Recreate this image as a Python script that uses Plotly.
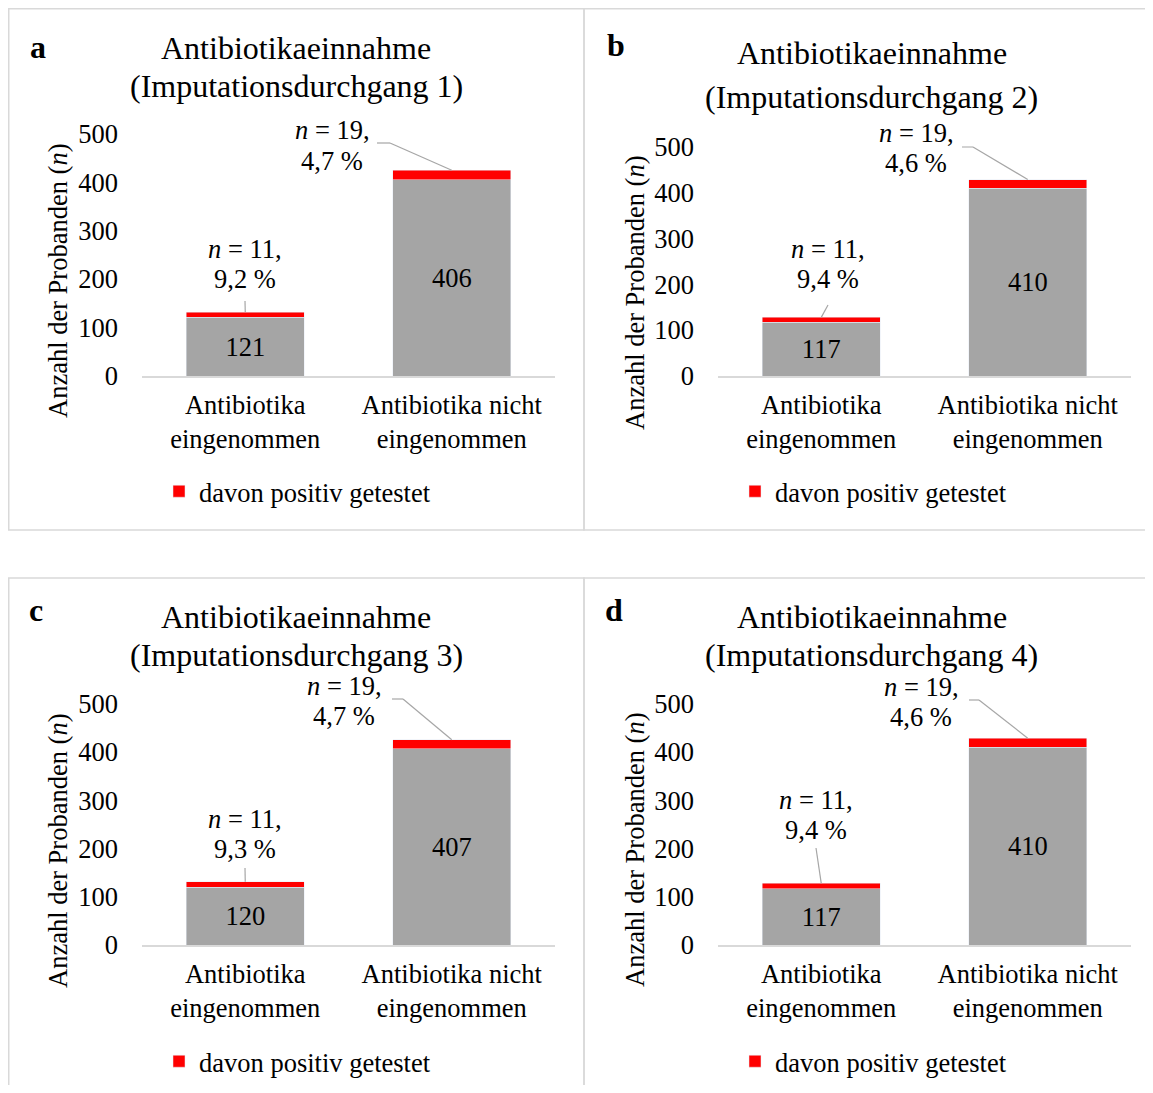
import plotly.graph_objects as go

PAGE_W, PAGE_H = 1153, 1093
OFF = 8  # browser body margin on every side
W, H = PAGE_W - 2 * OFF, PAGE_H - 2 * OFF
FONT = "Liberation Serif, Times New Roman, Tinos, DejaVu Serif, serif"
FS = 26.5      # body text size
FS_TITLE = 32  # title size

# ---------------- data ----------------
categories = ["Antibiotika<br>eingenommen", "Antibiotika nicht<br>eingenommen"]
panel_letters = ["a", "b", "c", "d"]
durchgang = [1, 2, 3, 4]
y_ticks = [0, 100, 200, 300, 400, 500]
legend_label = "davon positiv getestet"

neg_a = [121, 406]
pos_a = [11, 19]
pct_a = ["9,2", "4,7"]

neg_b = [117, 410]
pos_b = [11, 19]
pct_b = ["9,4", "4,6"]

neg_c = [120, 407]
pos_c = [11, 19]
pct_c = ["9,3", "4,7"]

neg_d = [117, 410]
pos_d = [11, 19]
pct_d = ["9,4", "4,6"]

negs = [neg_a, neg_b, neg_c, neg_d]
poss = [pos_a, pos_b, pos_c, pos_d]
pcts = [pct_a, pct_b, pct_c, pct_d]

# ---------------- layout geometry (page pixels) ----------------
geom = [
    dict(left=142, right=555, zero=376, top500=134, box=(8.75, 8.75, 584, 530),
         letter=(38, 47), title=(296, 48, 86), ytitle=(58, 281), legend=(179, 491.5),
         lab1=(245, 263.5), lead1=(245, 301), lab2=(332, 145.5), lead2=[(377, 143), (390, 143)]),
    dict(left=718, right=1131, zero=376, top500=147, box=(584, 8.75, 1170, 530),
         letter=(616, 45), title=(872, 53, 97), ytitle=(635, 293), legend=(755, 491.5),
         lab1=(828, 263.5), lead1=(828, 305), lab2=(916, 148), lead2=[(962, 147), (973, 147)]),
    dict(left=142, right=555, zero=945, top500=704, box=(8.75, 578, 584, 1110),
         letter=(36, 610), title=(296, 617, 655), ytitle=(58, 851), legend=(179, 1061.5),
         lab1=(245, 833.5), lead1=(245, 868), lab2=(344, 701), lead2=[(392, 699), (403, 699)]),
    dict(left=718, right=1131, zero=945, top500=704, box=(584, 578, 1170, 1110),
         letter=(614, 610), title=(872, 617, 655), ytitle=(635, 850), legend=(755, 1061.5),
         lab1=(816, 815), lead1=(816, 848), lab2=(921, 702), lead2=[(969, 700), (979, 700)]),
]
LABEL_LINE_GAP = 30
YMAX = 560
GRAY = "#a5a5a5"
RED = "#ff0000"
LINEGRAY = "#d9d9d9"
LEADER = "#a6a6a6"


def xp(px):
    return (px - OFF) / W


def yp(py):
    return 1 - (py - OFF) / H


def txt(text, x, y, size=FS, angle=0):
    return dict(text=text, xref="paper", yref="paper", x=xp(x), y=yp(y), showarrow=False,
                xanchor="center", yanchor="middle", textangle=angle,
                font=dict(family=FONT, size=size, color="black"))


fig = go.Figure()
annotations = []
shapes = []
layout_axes = {}

for i, g in enumerate(geom):
    sfx = "" if i == 0 else str(i + 1)
    xa, ya = "x" + sfx, "y" + sfx
    legname = "legend" + sfx
    scale = (g["zero"] - g["top500"]) / 500.0

    def to_dx(px, g=g):
        return -0.5 + (px - g["left"]) / (g["right"] - g["left"]) * 2

    def to_dy(py, g=g, scale=scale):
        return (g["zero"] - py) / scale

    xs = list(range(len(categories)))
    fig.add_trace(go.Bar(
        x=xs, y=negs[i], xaxis=xa, yaxis=ya, marker_color=GRAY, width=0.57,
        text=[str(v) for v in negs[i]], textposition="inside", insidetextanchor="middle",
        textangle=0, constraintext="none",
        textfont=dict(family=FONT, size=FS, color="black"),
        showlegend=False, hoverinfo="skip"))
    fig.add_trace(go.Bar(
        x=xs, y=poss[i], xaxis=xa, yaxis=ya, marker_color=RED, width=0.57,
        name=legend_label, legend=legname, showlegend=True, hoverinfo="skip"))

    layout_axes["xaxis" + sfx] = dict(
        domain=[xp(g["left"]), xp(g["right"])], range=[-0.5, 1.5], anchor=ya,
        tickvals=xs, ticktext=categories, showgrid=False, zeroline=False,
        showline=True, linecolor=LINEGRAY, linewidth=1.5, ticks="",
        ticklabelstandoff=4, automargin=False,
        tickfont=dict(family=FONT, size=FS, color="black"), fixedrange=True)
    layout_axes["yaxis" + sfx] = dict(
        domain=[yp(g["zero"]), yp(g["zero"] - YMAX * scale)], range=[0, YMAX], anchor=xa,
        tickvals=y_ticks, showgrid=False, zeroline=False, showline=False, ticks="",
        ticklabelstandoff=23, automargin=False,
        tickfont=dict(family=FONT, size=FS, color="black"), fixedrange=True)
    layout_axes[legname] = dict(
        x=xp(g["legend"][0] - 20), y=yp(g["legend"][1]), xanchor="left", yanchor="middle",
        xref="paper", yref="paper", bgcolor="rgba(0,0,0,0)", borderwidth=0,
        font=dict(family=FONT, size=FS, color="black"), itemwidth=30, orientation="h")

    # panel box
    bx0, by0, bx1, by1 = g["box"]
    shapes.append(dict(type="rect", xref="paper", yref="paper",
                       x0=xp(bx0), x1=xp(bx1), y0=yp(by1), y1=yp(by0),
                       line=dict(color=LINEGRAY, width=1.5), fillcolor="rgba(0,0,0,0)",
                       layer="below"))
    # panel letter, titles, y-axis title
    annotations.append(txt("<b>%s</b>" % panel_letters[i], *g["letter"], size=FS_TITLE))
    annotations.append(txt("Antibiotikaeinnahme", g["title"][0], g["title"][1], size=FS_TITLE))
    annotations.append(txt("(Imputationsdurchgang %d)" % durchgang[i], g["title"][0],
                           g["title"][2], size=FS_TITLE))
    annotations.append(txt("Anzahl der Probanden (<i>n</i>)", *g["ytitle"], angle=-90))

    # value labels for positives
    for j, (labkey, leadkey) in enumerate([("lab1", "lead1"), ("lab2", "lead2")]):
        lx, ly = g[labkey]
        annotations.append(txt("<i>n</i> = %d," % poss[i][j], lx, ly - LABEL_LINE_GAP / 2))
        annotations.append(txt("%s %%" % pcts[i][j], lx, ly + LABEL_LINE_GAP / 2))
        total = negs[i][j] + poss[i][j]
        pts = g[leadkey] if isinstance(g[leadkey], list) else [g[leadkey]]
        dpts = [(to_dx(px), to_dy(py)) for px, py in pts] + [(xs[j], total)]
        for (x0, y0), (x1, y1) in zip(dpts[:-1], dpts[1:]):
            shapes.append(dict(type="line", xref=xa, yref=ya, x0=x0, y0=y0, x1=x1, y1=y1,
                               line=dict(color=LEADER, width=1.2), layer="above"))

fig.update_layout(
    width=W, height=H, margin=dict(l=0, r=0, t=0, b=0, pad=0, autoexpand=False),
    barmode="stack", paper_bgcolor="white", plot_bgcolor="rgba(0,0,0,0)",
    font=dict(family=FONT, size=FS, color="black"),
    annotations=annotations, shapes=shapes,
    **layout_axes,
)

fig.write_html("out.html")
